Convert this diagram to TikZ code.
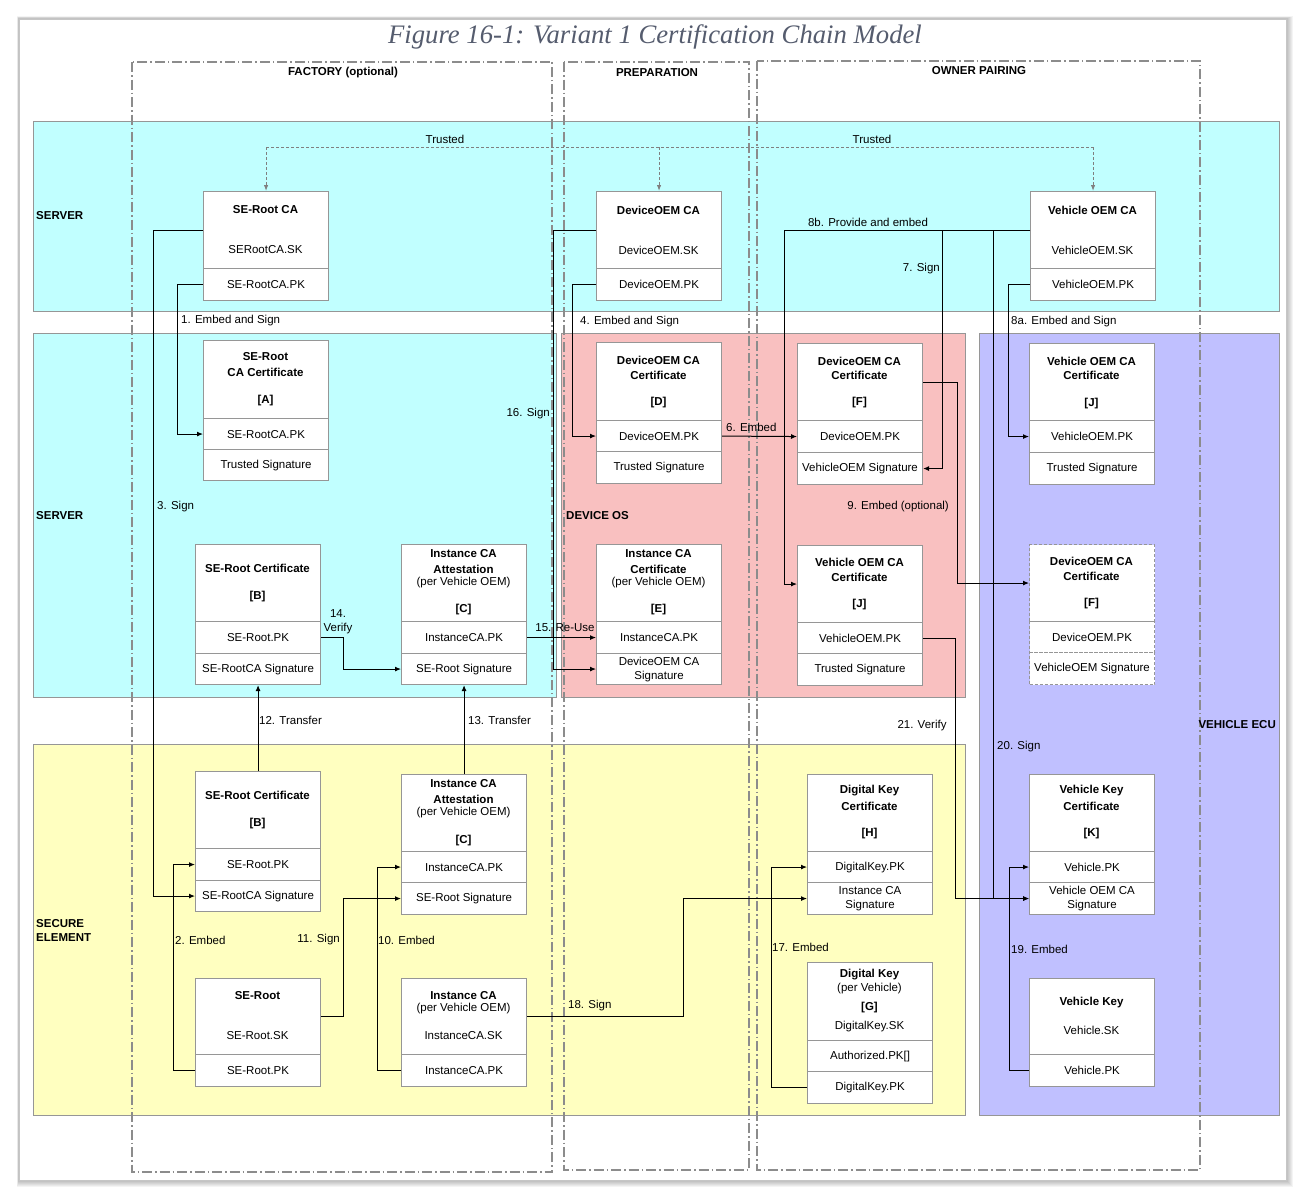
\documentclass[tikz,border=0pt]{standalone}
\usepackage{fontspec}
\setmainfont{Liberation Sans}
\newfontfamily\titlefont{Liberation Serif}
\usetikzlibrary{arrows.meta,calc}
\definecolor{cyanband}{RGB}{193,255,255}
\definecolor{pinkband}{RGB}{249,192,192}
\definecolor{lavband}{RGB}{192,192,255}
\definecolor{yelband}{RGB}{255,255,192}
\definecolor{boxgray}{RGB}{150,150,150}
\definecolor{phasegray}{RGB}{140,140,140}
\definecolor{titlecol}{RGB}{85,92,110}
\newcommand\fnt{\fontsize{11.5}{14}\selectfont}
\newcommand\mkcell[6][]{\node[cellbox,#1,minimum height={(#5-#4)*1pt},anchor=north west] (#2) at (#3,#4) {#6};}
\newcommand\tx[4][txt]{\node[#1] (#2) at #3 {#4};}
\tikzset{
 band/.style={draw=boxgray, line width=0.8pt},
 phase/.style={draw=phasegray, line width=1.3pt, dash pattern=on 10pt off 3pt on 1.5pt off 3pt},
 cellbox/.style={draw=boxgray, fill=white, line width=1.1pt, minimum width=125pt, inner sep=0pt, font=\fnt, align=center},
 dashcell/.style={dash pattern=on 3pt off 2pt},
 txt/.style={inner sep=0pt, font=\fnt, align=center},
 btxt/.style={txt, font=\fnt\bfseries},
 conn/.style={draw=black, line width=1pt, -{Latex[length=6pt,width=5pt]}},
 trust/.style={draw=gray, line width=1pt, dash pattern=on 3pt off 2pt},
}
\begin{document}
\begin{tikzpicture}[x=1pt,y=-1pt]
\useasboundingbox (0,0) rectangle (1306,1199);
% page with shadow
\foreach \d in {1,...,7} {\fill[black,opacity=0.045] (19-0.3*\d,19-0.4*\d) rectangle (1286+\d,1180+\d);}
\fill[white] (19,19) rectangle (1286,1180);
\draw[gray!45,line width=0.6pt] (19,19) rectangle (1286,1180);
\node[font=\titlefont\itshape\fontsize{26.7}{30}\selectfont, text=titlecol, inner sep=0pt] (title) at (655,37) {Figure 16-1: Variant 1 Certification Chain Model};

% bands
\filldraw[band, fill=cyanband] (33,121) rectangle (1279,311);
\filldraw[band, fill=cyanband] (33,333) rectangle (556,697);
\filldraw[band, fill=pinkband] (561,333) rectangle (965,697);
\filldraw[band, fill=lavband] (979,333) rectangle (1279,1115);
\filldraw[band, fill=yelband] (33,744) rectangle (965,1115);

% phases
\draw[phase,line width=1.7pt] (132,62) rectangle (552,1172);
\draw[phase] (564,62) rectangle (749,1170);
\draw[phase] (757,61) rectangle (1200,1170);
\node[btxt] (phf) at (343,73) {FACTORY (optional)};
\node[btxt] (php) at (657,73) {PREPARATION};
\node[btxt] (pho) at (979,71) {OWNER PAIRING};

% band labels
\node[btxt,anchor=west] (lsrv1) at (36,216) {SERVER};
\node[btxt,anchor=west] (lsrv2) at (36,516) {SERVER};
\node[btxt,anchor=west] (ldos) at (566,516) {DEVICE OS};
\node[btxt,anchor=east] (lecu) at (1276,725) {VEHICLE ECU};
\node[btxt,anchor=west,align=left] (lse) at (36,930) {SECURE\\ELEMENT};

% ---------- boxes ----------
% SE-Root CA
\mkcell{seca}{203}{191}{268}{}
\mkcell{seca-pk}{203}{268}{300}{SE-RootCA.PK}
\tx[btxt]{seca-t1}{(265.5,210)}{SE-Root CA}
\tx{seca-t2}{(265.5,250)}{SERootCA.SK}
% DeviceOEM CA
\mkcell{doca}{596}{191}{268}{}
\mkcell{doca-pk}{596}{268}{300}{DeviceOEM.PK}
\tx[btxt]{doca-t1}{(658.5,210)}{DeviceOEM CA}
\tx{doca-t2}{(658.5,250)}{DeviceOEM.SK}
% Vehicle OEM CA
\mkcell{voca}{1030}{191}{268}{}
\mkcell{voca-pk}{1030}{268}{300}{VehicleOEM.PK}
\tx[btxt]{voca-t1}{(1092.5,210)}{Vehicle OEM CA}
\tx{voca-t2}{(1092.5,250)}{VehicleOEM.SK}
% A
\mkcell{A}{203}{340}{418}{}
\mkcell{A-pk}{203}{418}{449}{SE-RootCA.PK}
\mkcell{A-sig}{203}{449}{480}{Trusted Signature}
\tx[btxt]{A-t1}{(265.5,357)}{SE-Root}
\tx[btxt]{A-t2}{(265.5,372)}{CA Certificate}
\tx[btxt]{A-t3}{(265.5,401)}{[A]}
% D
\mkcell{D}{596}{342}{420}{}
\mkcell{D-pk}{596}{420}{451}{DeviceOEM.PK}
\mkcell{D-sig}{596}{451}{483}{Trusted Signature}
\tx[btxt]{D-t1}{(658.5,360)}{DeviceOEM CA}
\tx[btxt]{D-t2}{(658.5,375)}{Certificate}
\tx[btxt]{D-t3}{(658.5,403)}{[D]}
% F
\mkcell{F}{797}{343}{420}{}
\mkcell{F-pk}{797}{420}{452}{DeviceOEM.PK}
\mkcell{F-sig}{797}{452}{484}{VehicleOEM Signature}
\tx[btxt]{F-t1}{(859.5,361)}{DeviceOEM CA}
\tx[btxt]{F-t2}{(859.5,375)}{Certificate}
\tx[btxt]{F-t3}{(859.5,403)}{[F]}
% J top
\mkcell{Jt}{1029}{343}{420}{}
\mkcell{Jt-pk}{1029}{420}{452}{VehicleOEM.PK}
\mkcell{Jt-sig}{1029}{452}{484}{Trusted Signature}
\tx[btxt]{Jt-t1}{(1091.5,361)}{Vehicle OEM CA}
\tx[btxt]{Jt-t2}{(1091.5,375)}{Certificate}
\tx[btxt]{Jt-t3}{(1091.5,404)}{[J]}
% B
\mkcell{B}{195}{544}{621}{}
\mkcell{B-pk}{195}{621}{653}{SE-Root.PK}
\mkcell{B-sig}{195}{653}{684}{SE-RootCA Signature}
\tx[btxt]{B-t1}{(257.5,568)}{SE-Root Certificate}
\tx[btxt]{B-t2}{(257.5,597)}{[B]}
% C
\mkcell{C}{401}{544}{621}{}
\mkcell{C-pk}{401}{621}{653}{InstanceCA.PK}
\mkcell{C-sig}{401}{653}{684}{SE-Root Signature}
\tx[btxt]{C-t1}{(463.5,554)}{Instance CA}
\tx[btxt]{C-t2}{(463.5,569)}{Attestation}
\tx{C-t3}{(463.5,583)}{(per Vehicle OEM)}
\tx[btxt]{C-t4}{(463.5,610)}{[C]}
% E
\mkcell{E}{596}{544}{621}{}
\mkcell{E-pk}{596}{621}{653}{InstanceCA.PK}
\mkcell{E-sig}{596}{653}{684}{DeviceOEM CA\\Signature}
\tx[btxt]{E-t1}{(658.5,554)}{Instance CA}
\tx[btxt]{E-t2}{(658.5,569)}{Certificate}
\tx{E-t3}{(658.5,583)}{(per Vehicle OEM)}
\tx[btxt]{E-t4}{(658.5,610)}{[E]}
% J pink
\mkcell{Jp}{797}{545}{622}{}
\mkcell{Jp-pk}{797}{622}{653}{VehicleOEM.PK}
\mkcell{Jp-sig}{797}{653}{685}{Trusted Signature}
\tx[btxt]{Jp-t1}{(859.5,562)}{Vehicle OEM CA}
\tx[btxt]{Jp-t2}{(859.5,577)}{Certificate}
\tx[btxt]{Jp-t3}{(859.5,605)}{[J]}
% F dashed
\mkcell[dashcell]{Fd}{1029}{544}{621}{}
\mkcell[dashcell]{Fd-pk}{1029}{621}{652}{DeviceOEM.PK}
\mkcell[dashcell]{Fd-sig}{1029}{652}{684}{VehicleOEM Signature}
\tx[btxt]{Fd-t1}{(1091.5,561)}{DeviceOEM CA}
\tx[btxt]{Fd-t2}{(1091.5,576)}{Certificate}
\tx[btxt]{Fd-t3}{(1091.5,604)}{[F]}
% B2
\mkcell{B2}{195}{771}{848}{}
\mkcell{B2-pk}{195}{848}{880}{SE-Root.PK}
\mkcell{B2-sig}{195}{880}{911}{SE-RootCA Signature}
\tx[btxt]{B2-t1}{(257.5,795)}{SE-Root Certificate}
\tx[btxt]{B2-t2}{(257.5,824)}{[B]}
% C2
\mkcell{C2}{401}{774}{851}{}
\mkcell{C2-pk}{401}{851}{882}{InstanceCA.PK}
\mkcell{C2-sig}{401}{882}{914}{SE-Root Signature}
\tx[btxt]{C2-t1}{(463.5,784)}{Instance CA}
\tx[btxt]{C2-t2}{(463.5,799)}{Attestation}
\tx{C2-t3}{(463.5,813)}{(per Vehicle OEM)}
\tx[btxt]{C2-t4}{(463.5,841)}{[C]}
% SE-Root
\mkcell{SR}{195}{978}{1054}{}
\mkcell{SR-pk}{195}{1054}{1086}{SE-Root.PK}
\tx[btxt]{SR-t1}{(257.5,996)}{SE-Root}
\tx{SR-t2}{(257.5,1036)}{SE-Root.SK}
% Instance CA
\mkcell{IC}{401}{978}{1054}{}
\mkcell{IC-pk}{401}{1054}{1086}{InstanceCA.PK}
\tx[btxt]{IC-t1}{(463.5,996)}{Instance CA}
\tx{IC-t2}{(463.5,1009)}{(per Vehicle OEM)}
\tx{IC-t3}{(463.5,1036)}{InstanceCA.SK}
% H
\mkcell{H}{807}{774}{851}{}
\mkcell{H-pk}{807}{851}{882}{DigitalKey.PK}
\mkcell{H-sig}{807}{882}{914}{Instance CA\\Signature}
\tx[btxt]{H-t1}{(869.5,791)}{Digital Key}
\tx[btxt]{H-t2}{(869.5,806)}{Certificate}
\tx[btxt]{H-t3}{(869.5,834)}{[H]}
% G
\mkcell{G}{807}{962}{1040}{}
\mkcell{G-auth}{807}{1040}{1071}{Authorized.PK[]}
\mkcell{G-pk}{807}{1071}{1103}{DigitalKey.PK}
\tx[btxt]{G-t1}{(869.5,975)}{Digital Key}
\tx{G-t2}{(869.5,989)}{(per Vehicle)}
\tx[btxt]{G-t3}{(869.5,1008)}{[G]}
\tx{G-t4}{(869.5,1027)}{DigitalKey.SK}
% K
\mkcell{K}{1029}{774}{851}{}
\mkcell{K-pk}{1029}{851}{882}{Vehicle.PK}
\mkcell{K-sig}{1029}{882}{914}{Vehicle OEM CA\\Signature}
\tx[btxt]{K-t1}{(1091.5,791)}{Vehicle Key}
\tx[btxt]{K-t2}{(1091.5,806)}{Certificate}
\tx[btxt]{K-t3}{(1091.5,834)}{[K]}
% Vehicle Key
\mkcell{VK}{1029}{978}{1054}{}
\mkcell{VK-pk}{1029}{1054}{1086}{Vehicle.PK}
\tx[btxt]{VK-t1}{(1091.5,1003)}{Vehicle Key}
\tx{VK-t2}{(1091.5,1030)}{Vehicle.SK}

% ---------- trusted ----------
\coordinate (trow) at (0,147);
\draw[trust] (seca.north |- trow) -- (voca.north |- trow);
\draw[trust,-{Latex[length=6pt,width=4.5pt]}] (seca.north |- trow) -- (seca.north);
\draw[trust,-{Latex[length=6pt,width=4.5pt]}] (doca.north |- trow) -- (doca.north);
\draw[trust,-{Latex[length=6pt,width=4.5pt]}] (voca.north |- trow) -- (voca.north);
\node[txt] (lt1) at (445,139) {Trusted};
\node[txt] (lt2) at (872,139) {Trusted};

% ---------- connectors ----------
\draw[conn] (seca-pk.west) -- ++(-26,0) |- (A-pk.west);
\draw[conn] (seca.west) -- ++(-50,0) |- (B2-sig.west);
\draw[conn] (doca-pk.west) -- ++(-24,0) |- (D-pk.west);
\draw[conn] (doca.west) -- ++(-43,0) |- (E-sig.west);
\draw[conn] (D-pk.east) -- (F-pk.west);
\draw[conn] (voca.west) -- ++(-88,0) |- (F-sig.east);
\draw[conn] (voca.west) -- ++(-246,0) |- (Jp.west);
\draw[conn] (voca-pk.west) -- ++(-22,0) |- (Jt-pk.west);
\draw[conn] (F.east) -- ++(34,0) |- (Fd.west);
\draw[conn] (voca.west) -- ++(-37,0) |- (K-sig.west);
\draw[conn] (Jp-pk.east) -- ++(32,0) |- (K-sig.west);
\draw[conn] (VK-pk.west) -- ++(-20,0) |- (K-pk.west);
\draw[conn] (B2.north) -- (B-sig.south);
\draw[conn] (C2.north) -- (C-sig.south);
\draw[conn] (B-pk.east) -- ++(22,0) |- (C-sig.west);
\draw[conn] (C-pk.east) -- (E-pk.west);
\draw[conn] (SR-pk.west) -- ++(-22,0) |- (B2-pk.west);
\draw[conn] (SR.east) -- ++(22,0) |- (C2-sig.west);
\draw[conn] (IC-pk.west) -- ++(-24,0) |- (C2-pk.west);
\draw[conn] (IC.east) -- ++(156,0) |- (H-sig.west);
\draw[conn] (G-pk.west) -- ++(-36,0) |- (H-pk.west);

% ---------- connector labels ----------
\node[txt,anchor=west] (l1) at (181,321) {1. Embed and Sign};
\node[txt,anchor=west] (l4) at (580,322) {4. Embed and Sign};
\node[txt,anchor=west] (l8a) at (1011,322) {8a. Embed and Sign};
\node[txt] (l8b) at (868,222) {8b. Provide and embed};
\node[txt,anchor=east] (l7) at (940,269) {7. Sign};
\node[txt,anchor=east] (l16) at (550,414) {16. Sign};
\node[txt,anchor=west] (l6) at (726,427) {6. Embed};
\node[txt,anchor=west] (l3) at (157,507) {3. Sign};
\node[txt,anchor=east] (l9) at (949,507) {9. Embed (optional)};
\node[txt] (l14) at (338,622) {14.\\Verify};
\node[txt] (l15) at (565,628) {15. Re-Use};
\node[txt,anchor=west] (l12) at (259,720) {12. Transfer};
\node[txt,anchor=west] (l13) at (468,720) {13. Transfer};
\node[txt] (l21) at (922,726) {21. Verify};
\node[txt,anchor=west] (l20) at (997,747) {20. Sign};
\node[txt,anchor=west] (l19) at (1011,949) {19. Embed};
\node[txt,anchor=west] (l2) at (175,940) {2. Embed};
\node[txt,anchor=east] (l11) at (340,940) {11. Sign};
\node[txt,anchor=west] (l10) at (378,940) {10. Embed};
\node[txt,anchor=west] (l17) at (772,947) {17. Embed};
\node[txt,anchor=west] (l18) at (568,1006) {18. Sign};
\end{tikzpicture}
\end{document}
